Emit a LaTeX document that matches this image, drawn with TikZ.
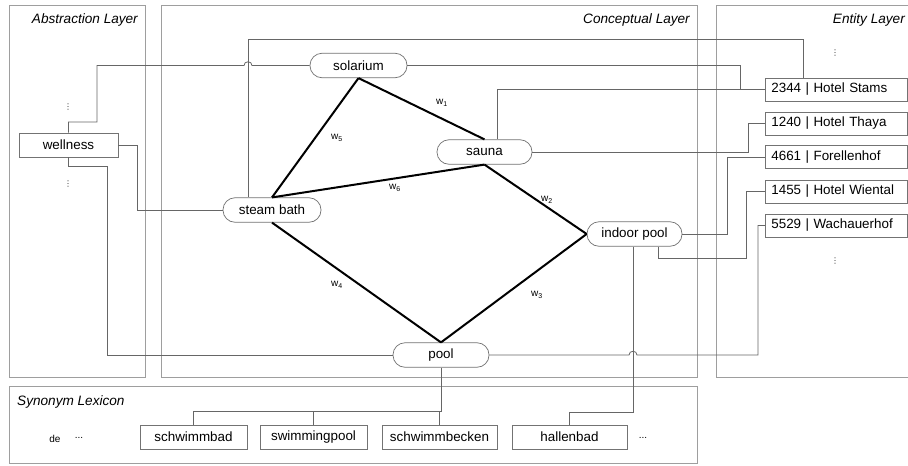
\documentclass[tikz,border=0pt]{standalone}
\usepackage{fontspec}
\setmainfont{Liberation Sans}
\newfontfamily\dejavu{DejaVu Sans}
\begin{document}
\begin{tikzpicture}[x=1pt,y=-1pt,
  layer/.style={draw=black!38, line width=1pt},
  conn/.style={draw=black!60, line width=0.8pt},
  wedge/.style={draw=black, line width=2pt},
  concept/.style={draw=black!55, line width=0.7pt, rounded corners=12pt, minimum height=24.5pt, inner sep=0pt, fill=white, font=\fontsize{13.4}{16}\selectfont},
  boxnode/.style={draw=black!55, line width=0.7pt, minimum height=24pt, inner sep=0pt, fill=white, font=\fontsize{13.4}{16}\selectfont},
  entity/.style={draw=black!55, line width=0.7pt, minimum height=23pt, text width=130pt, align=left, inner xsep=6pt, inner ysep=0pt, anchor=west, fill=white, font=\fontsize{13.4}{16}\selectfont},
  title/.style={font=\fontsize{13.6}{16}\selectfont\itshape, inner sep=0pt},
  wlab/.style={font=\fontsize{10}{12}\selectfont, inner sep=0pt},
  dots/.style={font=\dejavu\fontsize{8}{8}\selectfont, inner sep=0pt, text=black!80},
  small/.style={font=\fontsize{10}{12}\selectfont, inner sep=0pt}
]
\useasboundingbox (0,0) rectangle (908,466);
\clip (0,0) rectangle (908,466);
\fill[white] (0,0) rectangle (908,466);

% layers
\draw[layer] (9,5) rectangle (145,377);
\draw[layer] (161,5) rectangle (697,377);
\draw[layer] (716,5) rectangle (918,377);
\draw[layer] (9,386) rectangle (697,463);

\node[title, anchor=east] (tabs) at (138,19.5) {Abstraction Layer};
\node[title, anchor=east] (tcon) at (690,19.5) {Conceptual Layer};
\node[title, anchor=east] (tent) at (905,19.5) {Entity Layer};
\node[title, anchor=west] (tsyn) at (17,402) {Synonym Lexicon};

% nodes
\node[boxnode, minimum width=99pt] (wellness) at (68.5,145) {wellness};
\node[concept, minimum width=97pt] (solarium) at (358.5,65.5) {solarium};
\node[concept, minimum width=95pt] (sauna) at (484.5,152) {sauna};
\node[concept, minimum width=98pt] (steam) at (272,210) {steam bath};
\node[concept, minimum width=95pt] (ipool) at (634.5,234) {indoor pool};
\node[concept, minimum width=96pt] (pool) at (441,355) {pool};

\node[entity] (stams) at (765,89.5) {2344 | Hotel Stams};
\node[entity] (thaya) at (765,123.5) {1240 | Hotel Thaya};
\node[entity] (forellen) at (765,157) {4661 | Forellenhof};
\node[entity] (wiental) at (765,191.5) {1455 | Hotel Wiental};
\node[entity] (wach) at (765,225.5) {5529 | Wachauerhof};

\node[boxnode, minimum width=107pt] (schwimmbad) at (193.5,437) {schwimmbad};
\node[boxnode, minimum width=107pt] (swimming) at (313.5,437) {swimmingpool};
\node[boxnode, minimum width=115pt] (becken) at (439.5,437) {schwimmbecken};
\node[boxnode, minimum width=115pt] (hallen) at (569.5,437) {hallenbad};

\node[small] (de) at (55,439) {de};
\node[small] (dde) at (79,438) {...};
\node[small] (dhal) at (643,438) {...};

\node[dots] (d1) at (68,107) {⋮};
\node[dots] (d2) at (68,184) {⋮};
\node[dots] (d3) at (835,53) {⋮};
\node[dots] (d4) at (835,261) {⋮};

% connectors
\coordinate (sb) at (803,39);
\draw[conn] (wellness.north) |- (97,122) |- (244,65.5) .. controls (244,60.5) and (252,60.5) .. (252,65.5) -- (solarium.west);
\draw[conn] (wellness.east) -| (137,210) -- (steam.west);
\draw[conn] (wellness.south) |- (107,166) |- (pool.west);
\draw[conn] ([xshift=-24pt]steam.north) |- (sb) -- (sb |- stams.north);
\draw[conn] (solarium.east) -| (740,89.5) -- (stams.west);
\draw[conn] ([xshift=12.5pt]sauna.north) |- (stams.west);
\draw[conn] (sauna.east) -| (748,123.5) -- (thaya.west);
\draw[conn] (ipool.east) -| (727,157) -- (forellen.west);
\draw[conn] ([xshift=23.5pt]ipool.south) |- (746,258) |- (wiental.west);
\draw[conn] ([xshift=-1.5pt]ipool.south) |- (569.5,412) -- (hallen.north);
\draw[conn] (pool.east) -- (629,355) .. controls (629,350) and (637,350) .. (637,355) -| (758,225.5) -- (wach.west);
\draw[conn] (pool.south) |- (193.5,411) -- (schwimmbad.north);
\draw[conn] (swimming.north) -- ++(0,-14);
\draw[conn] (becken.north) -- ++(0,-14);

% weighted edges
\draw[wedge] (solarium.south) -- (sauna.north);
\draw[wedge] (solarium.south) -- (steam.north);
\draw[wedge] (steam.north) -- (sauna.south);
\draw[wedge] (sauna.south) -- (ipool.west);
\draw[wedge] (steam.south) -- (pool.north);
\draw[wedge] (pool.north) -- (ipool.west);

\node[wlab] (w1) at (442,103) {w\textsubscript{1}};
\node[wlab] (w5) at (337,138) {w\textsubscript{5}};
\node[wlab] (w6) at (395,188) {w\textsubscript{6}};
\node[wlab] (w2) at (547,200) {w\textsubscript{2}};
\node[wlab] (w4) at (337,285) {w\textsubscript{4}};
\node[wlab] (w3) at (537,295) {w\textsubscript{3}};
\end{tikzpicture}
\end{document}
